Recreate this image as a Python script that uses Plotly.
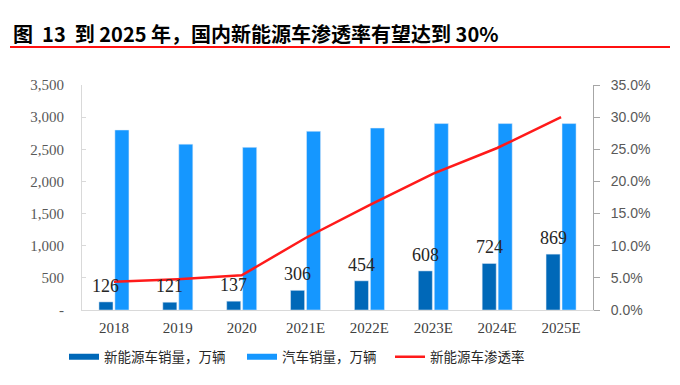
import plotly.graph_objects as go

years = ["2018", "2019", "2020", "2021E", "2022E", "2023E", "2024E", "2025E"]
nev_sales = [126, 121, 137, 306, 454, 608, 724, 869]
car_sales = [2800, 2580, 2530, 2780, 2830, 2900, 2900, 2900]
nev_rate = [0.044, 0.048, 0.054, 0.112, 0.163, 0.212, 0.252, 0.300]
left_ticks = [0, 500, 1000, 1500, 2000, 2500, 3000, 3500]
left_tick_text = ["-", "500", "1,000", "1,500", "2,000", "2,500", "3,000", "3,500"]

NEV_C = "#0068B8"
CAR_C = "#1597FF"
RED = "#FF1A1A"

# plot area in screen pixels (page has an 8px body margin)
PX0, PX1, PY0, PY1 = 82, 593, 85, 310
def px(x):
    return (x - PX0) / (PX1 - PX0)
def py(y):
    return (PY1 - y) / (PY1 - PY0)

fig = go.Figure()
fig.add_trace(go.Bar(x=years, y=nev_sales, marker_color=NEV_C, showlegend=False))
fig.add_trace(go.Bar(x=years, y=car_sales, marker_color=CAR_C, showlegend=False))
fig.add_trace(go.Scatter(x=years, y=nev_rate, mode="lines", line=dict(color=RED, width=2.5),
                         yaxis="y2", showlegend=False))

# legend proxies
fig.add_trace(go.Scatter(x=[years[0]], y=[None], mode="lines", line=dict(color=NEV_C, width=6),
                         name="新能源车销量，万辆", legend="legend"))
fig.add_trace(go.Scatter(x=[years[0]], y=[None], mode="lines", line=dict(color=CAR_C, width=6),
                         name="汽车销量，万辆", legend="legend2"))
fig.add_trace(go.Scatter(x=[years[0]], y=[None], mode="lines", line=dict(color=RED, width=2.5),
                         name="新能源车渗透率", legend="legend3"))

for i, v in enumerate(nev_sales):
    fig.add_annotation(x=i, y=v, text=str(v), showarrow=False, xshift=-8, yshift=4,
                       yanchor="bottom", font=dict(family="Liberation Serif", size=18, color="#262626"))

fig.add_annotation(text="<b>图  13  到 2025 年，国内新能源车渗透率有望达到 30%</b>",
                   xref="paper", yref="paper", x=px(11), y=py(33),
                   xanchor="left", yanchor="middle", showarrow=False,
                   font=dict(family="Noto Sans CJK SC", size=20, color="#000000"))
fig.add_shape(type="line", xref="paper", yref="paper", x0=px(10), x1=px(670),
              y0=py(47), y1=py(47), line=dict(color="#FF1010", width=2))

legend_common = dict(orientation="h", xanchor="left", yanchor="middle", itemwidth=30,
                     bgcolor="rgba(0,0,0,0)",
                     font=dict(family="Noto Sans CJK SC", size=13.5, color="#262626"))

fig.update_layout(
    width=680, height=385,
    margin=dict(l=PX0 - 8, r=680 + 8 - PX1, t=PY0 - 8, b=385 + 8 - PY1),
    paper_bgcolor="white", plot_bgcolor="white",
    barmode="group", bargap=0.5, bargroupgap=0.12,
    xaxis=dict(type="category", categoryorder="array", categoryarray=years,
               range=[-0.5, len(years) - 0.5],
               showgrid=False, showline=True, linecolor="#D9D9D9", linewidth=1,
               ticklabelstandoff=4,
               tickfont=dict(family="Liberation Serif", size=15, color="#404040"), ticks=""),
    yaxis=dict(range=[0, 3500], tickvals=left_ticks, ticktext=left_tick_text, showgrid=False,
               showline=True, linecolor="#D9D9D9", ticks="inside", ticklen=4, tickcolor="#D9D9D9",
               ticklabelstandoff=14,
               tickfont=dict(family="Liberation Serif", size=15, color="#595959"), zeroline=False),
    yaxis2=dict(range=[0, 0.35], dtick=0.05, tickformat=".1%", overlaying="y", side="right",
                showgrid=False, showline=True, linecolor="#A6A6A6", ticks="outside", ticklen=6,
                tickcolor="#A6A6A6", zeroline=False, ticklabelstandoff=8,
                tickfont=dict(family="Liberation Sans", size=14, color="#595959")),
    legend=dict(x=px(64), y=py(357), **legend_common),
    legend2=dict(x=px(242), y=py(357), **legend_common),
    legend3=dict(x=px(390), y=py(357), **legend_common),
)

fig.write_html("out.html")
